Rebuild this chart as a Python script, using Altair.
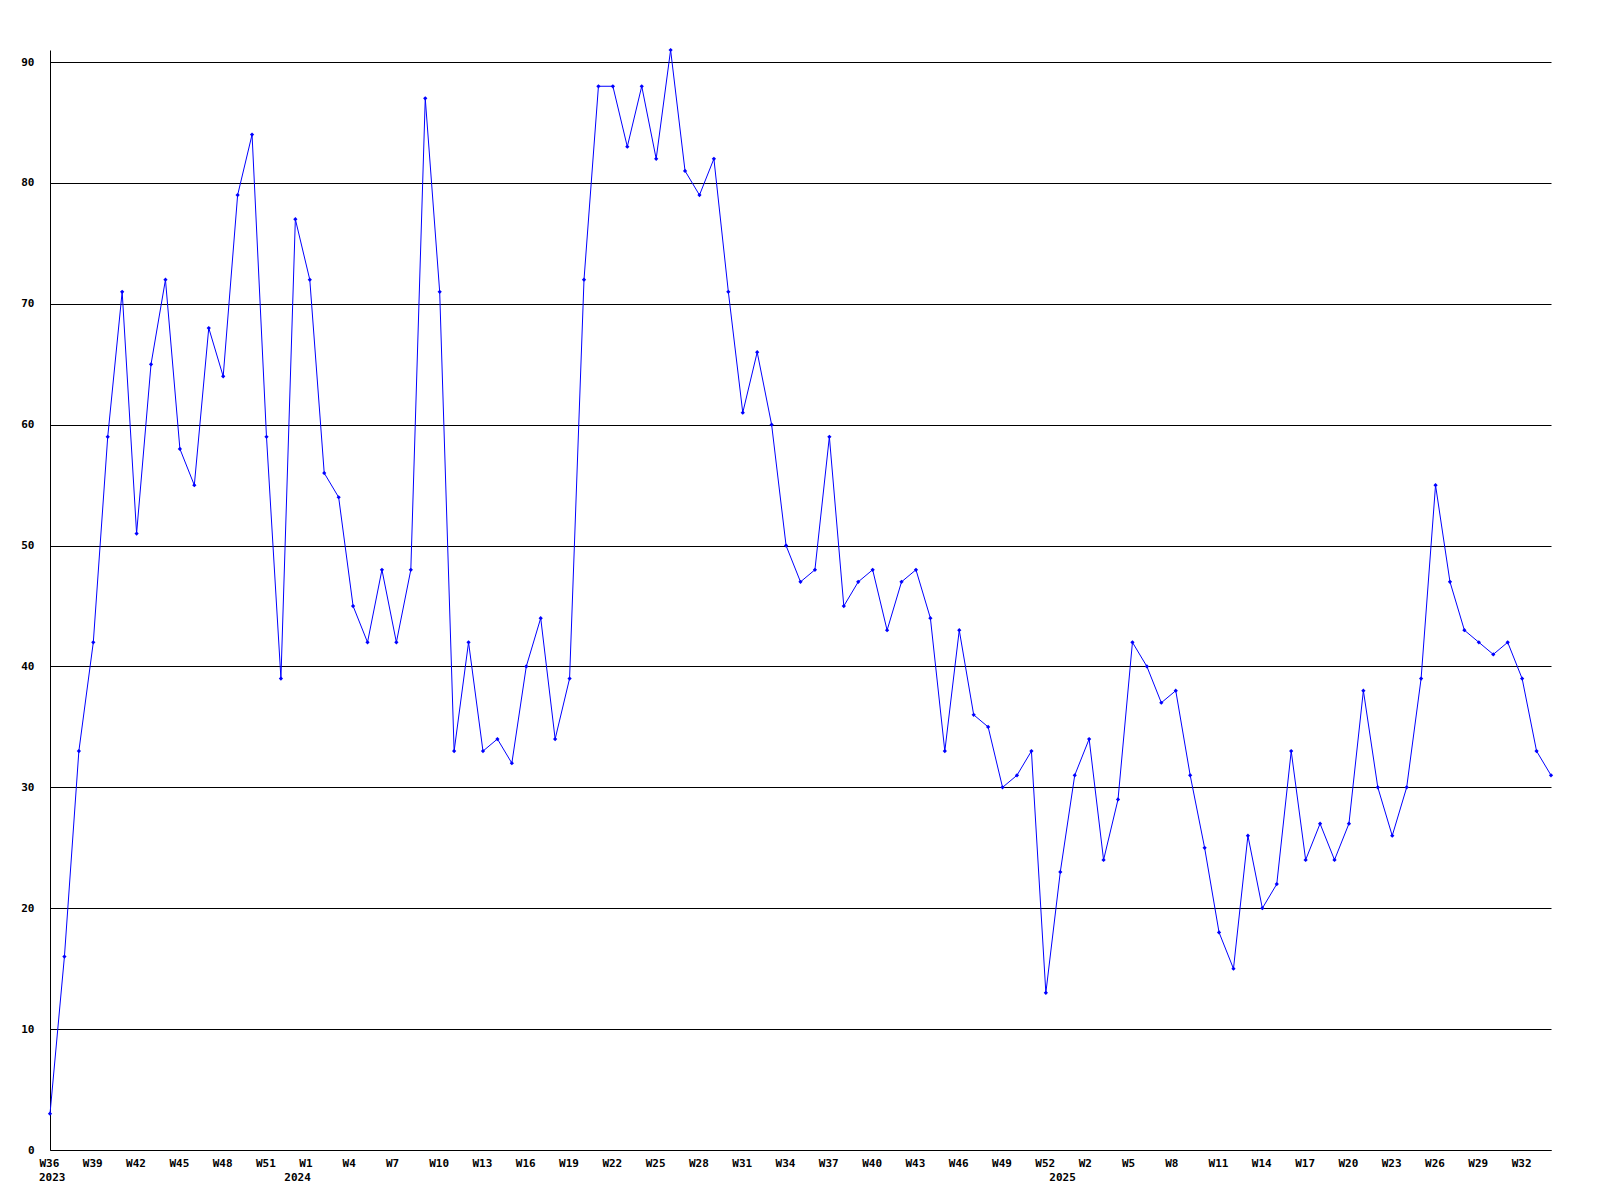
import altair as alt
import pandas as pd

# weekly values, W36 2023 ... W34 2025
values = [3, 16, 33, 42, 59, 71, 51, 65, 72, 58,
          55, 68, 64, 79, 84, 59, 39, 77, 72, 56,
          54, 45, 42, 48, 42, 48, 87, 71, 33, 42,
          33, 34, 32, 40, 44, 34, 39, 72, 88, 88,
          83, 88, 82, 91, 81, 79, 82, 71, 61, 66,
          60, 50, 47, 48, 59, 45, 47, 48, 43, 47,
          48, 44, 33, 43, 36, 35, 30, 31, 33, 13,
          23, 31, 34, 24, 29, 42, 40, 37, 38, 31,
          25, 18, 15, 26, 20, 22, 33, 24, 27, 24,
          27, 38, 30, 26, 30, 39, 55, 47, 43, 42,
          41, 42, 39, 33, 31]

# (year, first week, last week)
year_segments = [(2023, 36, 52), (2024, 0, 52), (2025, 0, 34)]
y_ticks = [0, 10, 20, 30, 40, 50, 60, 70, 80, 90]

weeks, years = [], []
for yr, w0, w1 in year_segments:
    for w in range(w0, w1 + 1):
        weeks.append(f"W{w}")
        years.append(yr)

df = pd.DataFrame({"idx": list(range(len(values))), "value": values,
                   "week": weeks, "year": years})
df_years = df.groupby("year", as_index=False).first()

n = len(values)
x_tick_vals = list(range(0, n, 3))
label_arr = "[" + ",".join(f"'{w}'" for w in weeks) + "]"

W, H = 1501, 1100
FONT = "DejaVu Sans Mono"
BLUE = "#0000FF"

xscale = alt.Scale(domain=[0, n - 1], nice=False, zero=False)
yscale = alt.Scale(domain=[0, max(values)], nice=False, zero=True)

x_axis = alt.Axis(values=x_tick_vals, labelExpr=f"{label_arr}[datum.value]",
                  grid=False, ticks=False, domainColor="black", domainWidth=1,
                  labelAlign="left", labelOffset=-11, labelBaseline="top",
                  labelPadding=7, labelFlush=False, labelOverlap=False,
                  labelFont=FONT, labelFontWeight="bold", labelFontSize=11,
                  labelColor="black", title=None)
y_axis = alt.Axis(values=y_ticks, grid=True, gridColor="black", gridWidth=1,
                  gridOpacity=1, ticks=False, domainColor="black", domainWidth=1,
                  labelPadding=16, labelFont=FONT, labelFontWeight="bold",
                  labelFontSize=11, labelColor="black", title=None,
                  labelFlush=False)

base = alt.Chart(df).encode(
    x=alt.X("idx:Q", scale=xscale, axis=x_axis),
    y=alt.Y("value:Q", scale=yscale, axis=y_axis),
)

line = base.mark_line(color=BLUE, strokeWidth=1)
pts = base.mark_point(shape="diamond", filled=True, size=18, color=BLUE, opacity=1)

year_text = alt.Chart(df_years).mark_text(
    align="left", baseline="top", dx=-11, font=FONT, fontWeight="bold",
    fontSize=11, color="black"
).encode(
    x=alt.X("idx:Q", scale=xscale),
    y=alt.value(H + 22),
    text=alt.Text("year:N"),
)

chart = alt.layer(line, pts, year_text).properties(
    width=W, height=H,
    padding={"left": 42, "top": 42, "right": 40, "bottom": 40},
    autosize=alt.AutoSizeParams(type="none"),
    background="white",
).configure_view(stroke=None)

chart.save("out.html", embed_options={"renderer": "svg", "actions": False})
